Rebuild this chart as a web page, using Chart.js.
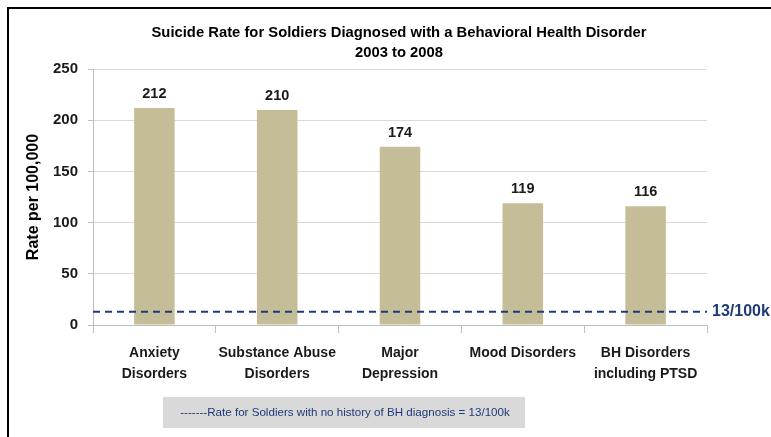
<!DOCTYPE html>
<html>
<head>
<meta charset="utf-8">
<script src="https://cdn.jsdelivr.net/npm/chart.js@4.4.1/dist/chart.umd.min.js"></script>
<style>
html,body{margin:0;padding:0;background:#fff;}
#wrap{width:771px;height:437px;position:relative;}
</style>
</head>
<body>
<div id="wrap"><canvas id="c" width="771" height="437"></canvas></div>
<script>
const titleLines = ["Suicide Rate for Soldiers Diagnosed with a Behavioral Health Disorder", "2003 to 2008"];
const categories = [["Anxiety", "Disorders"], ["Substance Abuse", "Disorders"], ["Major", "Depression"], ["Mood Disorders"], ["BH Disorders", "including PTSD"]];
const rates = [212, 210, 174, 119, 116];
const baselineRate = 13;
const baselineLabel = "13/100k";
const legendText = "-------Rate for Soldiers with no history of BH diagnosis = 13/100k";
const yTitle = "Rate per 100,000";
const yMin = 0, yMax = 250, yStep = 50;

const FONT = "'Liberation Sans', Arial, sans-serif";
const NAVY = "#1f3a7a";

const decor = {
  id: 'decor',
  beforeDraw(chart) {
    const ctx = chart.ctx;
    ctx.save();
    ctx.fillStyle = '#fff';
    ctx.fillRect(0, 0, chart.width, chart.height);
    // frame
    ctx.strokeStyle = '#000';
    ctx.lineWidth = 2;
    ctx.beginPath();
    ctx.moveTo(8, 437);
    ctx.lineTo(8, 8);
    ctx.lineTo(771, 8);
    ctx.stroke();
    // title
    ctx.fillStyle = '#000';
    ctx.font = "bold 14.8px " + FONT;
    ctx.textAlign = 'center';
    ctx.textBaseline = 'middle';
    ctx.fillText(titleLines[0], 399, 33);
    ctx.fillText(titleLines[1], 399, 53);
    // legend box
    ctx.fillStyle = '#d9d9d9';
    ctx.fillRect(163, 397, 362, 31);
    ctx.fillStyle = NAVY;
    ctx.font = "11.6px " + FONT;
    ctx.fillText(legendText, 345, 413);
    ctx.restore();
  },
  afterDatasetsDraw(chart) {
    const ctx = chart.ctx;
    const ys = chart.scales.y;
    const area = chart.chartArea;
    const meta = chart.getDatasetMeta(0);
    ctx.save();
    // value labels
    ctx.fillStyle = '#1a1a1a';
    ctx.font = "bold 14.5px " + FONT;
    ctx.textAlign = 'center';
    ctx.textBaseline = 'middle';
    meta.data.forEach((bar, i) => {
      ctx.fillText(String(rates[i]), bar.x, bar.y - 14);
    });
    // baseline dashed line
    const y = ys.getPixelForValue(baselineRate);
    ctx.strokeStyle = NAVY;
    ctx.lineWidth = 2;
    ctx.setLineDash([7, 5]);
    ctx.beginPath();
    ctx.moveTo(area.left, y);
    ctx.lineTo(area.right, y);
    ctx.stroke();
    ctx.setLineDash([]);
    ctx.fillStyle = NAVY;
    ctx.font = "bold 16px " + FONT;
    ctx.textAlign = 'left';
    ctx.fillText(baselineLabel, area.right + 5, y);
    ctx.restore();
  }
};

new Chart(document.getElementById('c'), {
  type: 'bar',
  data: {
    labels: categories,
    datasets: [{
      data: rates,
      backgroundColor: '#c4bd97',
      barPercentage: 0.66,
      categoryPercentage: 0.5
    }]
  },
  options: {
    responsive: false,
    animation: false,
    devicePixelRatio: 1,
    layout: { padding: { left: 24, right: 64, top: 69, bottom: 0 } },
    plugins: { legend: { display: false }, tooltip: { enabled: false }, title: { display: false } },
    scales: {
      x: {
        afterFit(s) { s.height = 437 - 325; },
        grid: { offset: true, drawOnChartArea: false, drawTicks: true, tickLength: 8, color: '#bfbfbf' },
        border: { color: '#bfbfbf', width: 1 },
        ticks: { color: '#1a1a1a', font: { family: FONT, size: 14, weight: 'bold', lineHeight: 1.55 }, padding: 9, maxRotation: 0, autoSkip: false }
      },
      y: {
        min: yMin, max: yMax,
        afterFit(s) { s.width = 93 - 24; },
        grid: { color: '#d9d9d9', tickLength: 5, tickColor: '#bfbfbf' },
        border: { color: '#bfbfbf', width: 1 },
        ticks: { stepSize: yStep, color: '#1a1a1a', font: { family: FONT, size: 15, weight: 'bold' }, padding: 10 },
        title: { display: true, text: yTitle, color: '#000', font: { family: FONT, size: 16, weight: 'bold' }, padding: { top: 0, bottom: 6 } }
      }
    }
  },
  plugins: [decor]
});
</script>
</body>
</html>
